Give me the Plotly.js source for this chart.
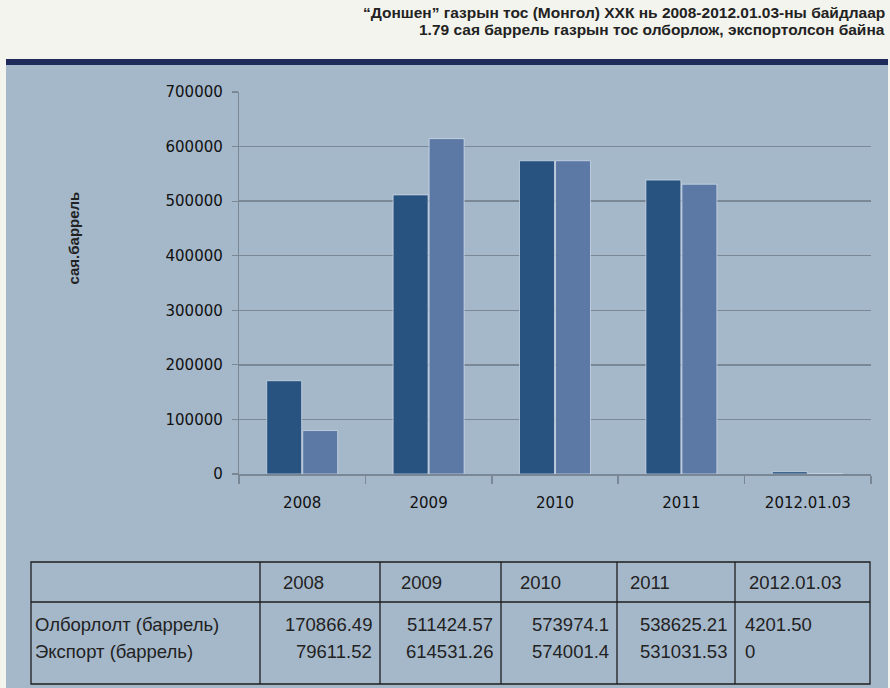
<!DOCTYPE html>
<html>
<head>
<meta charset="utf-8">
<script src="https://cdn.plot.ly/plotly-3.0.1.min.js"></script>
<style>html,body{margin:0;padding:0;background:#f4f4ee;}#chart{width:890px;height:688px;}</style>
</head>
<body>
<div id="chart"></div>
<script>
// ---- data ----
const categories = ['2008', '2009', '2010', '2011', '2012.01.03'];
const productionText = ['170866.49', '511424.57', '573974.1', '538625.21', '4201.50'];
const exportText = ['79611.52', '614531.26', '574001.4', '531031.53', '0'];
const production = productionText.map(Number);
const exports = exportText.map(Number);
const rowLabels = ['Олборлолт (баррель)', 'Экспорт (баррель)'];
const yTitle = 'сая.баррель';
const titleLines = ['“Доншен” газрын тос (Монгол) ХХК нь 2008-2012.01.03-ны байдлаар',
                    '1.79 сая баррель газрын тос олборлож, экспортолсон байна'];

// ---- helpers (pixel -> paper) ----
const W = 890, H = 688;
const px = x => x / W;
const py = y => 1 - y / H;

const panel = '#a5b8ca';
const grid = '#7a8795';
const dark = '#28527f';
const light = '#5c78a4';

const traces = [
  {type: 'bar', name: rowLabels[0], x: categories, y: production,
   marker: {color: dark, line: {color: 'rgba(215,225,238,0.7)', width: 1}}, hoverinfo: 'y'},
  {type: 'bar', name: rowLabels[1], x: categories, y: exports,
   marker: {color: light, line: {color: 'rgba(215,225,238,0.7)', width: 1}}, hoverinfo: 'y'}
];

// table geometry
const tLeft = 31, tRight = 870, tTop = 562, tMid = 602, tBottom = 684;
const colLines = [260, 380, 501, 617, 735];
const colRights = [380, 501, 617, 735, 870];
const headOff = [21, 19, 17, 11, 12];
const lineCol = '#1e1e1e';

const shapes = [
  {type: 'rect', xref: 'paper', yref: 'paper', x0: px(6), x1: px(888), y0: 0, y1: py(65),
   fillcolor: panel, line: {width: 0}, layer: 'below'},
  {type: 'rect', xref: 'paper', yref: 'paper', x0: px(6), x1: px(888), y0: py(65), y1: py(59),
   fillcolor: '#1f2a5c', line: {width: 0}, layer: 'below'},
  {type: 'rect', xref: 'paper', yref: 'paper', x0: px(tLeft), x1: px(tRight), y0: py(tBottom), y1: py(tTop),
   line: {color: lineCol, width: 1.3}},
  {type: 'line', xref: 'paper', yref: 'paper', x0: px(tLeft), x1: px(tRight), y0: py(tMid), y1: py(tMid),
   line: {color: lineCol, width: 1.3}}
];
colLines.forEach(c => shapes.push({type: 'line', xref: 'paper', yref: 'paper', x0: px(c), x1: px(c),
  y0: py(tBottom), y1: py(tTop), line: {color: lineCol, width: 1.3}}));

const tFont = {family: 'Liberation Sans, Arial, sans-serif', size: 18.5, color: '#222'};
const titleFont = {family: 'Liberation Sans, Arial, sans-serif', size: 15.5, color: '#222'};
const annotations = [
  {xref: 'paper', yref: 'paper', x: px(63), y: py(238), text: '<b>' + yTitle + '</b>', textangle: -90,
   showarrow: false, font: {family: 'Liberation Sans, Arial, sans-serif', size: 15, color: '#222'}}
];
titleLines.forEach((t, i) => {
  annotations.push({xref: 'paper', yref: 'paper', x: px(887), y: py(i === 0 ? 12 : 30), xanchor: 'right',
    yanchor: 'middle', text: '<b>' + t + '</b>', showarrow: false, font: titleFont});
});
categories.forEach((c, i) => {
  const left = colLines[i];
  annotations.push({xref: 'paper', yref: 'paper', x: px(left + headOff[i]), y: py(582), xanchor: 'left',
    yanchor: 'middle', text: c, showarrow: false, font: tFont});
  [productionText, exportText].forEach((arr, r) => {
    const yy = r === 0 ? 624 : 651;
    if (i < 4) {
      annotations.push({xref: 'paper', yref: 'paper', x: px(colRights[i] - 6), y: py(yy), xanchor: 'right',
        yanchor: 'middle', text: arr[i], showarrow: false, font: tFont});
    } else {
      annotations.push({xref: 'paper', yref: 'paper', x: px(left + 8), y: py(yy), xanchor: 'left',
        yanchor: 'middle', text: arr[i], showarrow: false, font: tFont});
    }
  });
});
rowLabels.forEach((l, r) => {
  annotations.push({xref: 'paper', yref: 'paper', x: px(33), y: py(r === 0 ? 624 : 651), xanchor: 'left',
    yanchor: 'middle', text: l, showarrow: false, font: tFont});
});

const layout = {
  width: W, height: H,
  margin: {l: 0, r: 0, t: 0, b: 0},
  paper_bgcolor: '#f4f4ee',
  plot_bgcolor: 'rgba(0,0,0,0)',
  showlegend: false,
  barmode: 'group',
  bargap: 0.43,
  bargroupgap: 0.03,
  xaxis: {type: 'category', domain: [px(239), px(871)], showgrid: false, showline: true, linecolor: grid,
          linewidth: 1.5, ticks: 'outside', tickson: 'boundaries', ticklen: 8, tickcolor: grid, tickwidth: 1.5,
          tickfont: {family: 'DejaVu Sans, sans-serif', size: 15, color: '#111'}, ticklabelstandoff: 14,
          fixedrange: true},
  yaxis: {domain: [py(474), py(92)], range: [0, 700000], dtick: 100000, showgrid: true, gridcolor: grid,
          gridwidth: 1.5, zeroline: false, showline: true, linecolor: grid, linewidth: 1.2,
          ticks: 'outside', ticklen: 6, tickcolor: grid, tickwidth: 1.2, tickformat: 'd',
          tickfont: {family: 'DejaVu Sans, sans-serif', size: 15, color: '#111'}, ticklabelstandoff: 6,
          fixedrange: true},
  shapes: shapes,
  annotations: annotations
};

Plotly.newPlot('chart', traces, layout, {displayModeBar: false, staticPlot: true});
</script>
</body>
</html>
